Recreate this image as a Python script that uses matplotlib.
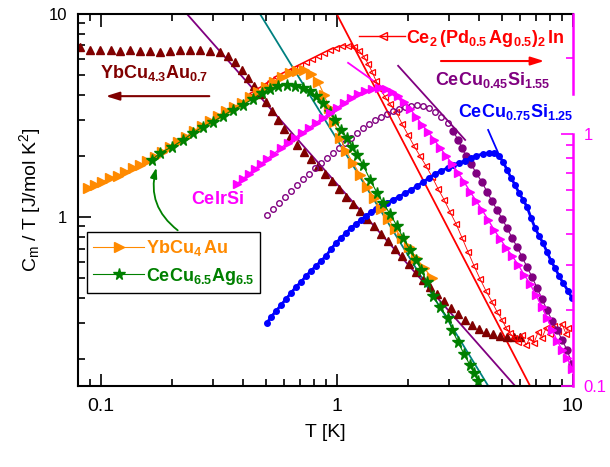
import numpy as np
import matplotlib
matplotlib.use("Agg")
from matplotlib import pyplot as plt
from matplotlib.ticker import LogLocator, NullFormatter, FixedLocator, FixedFormatter

plt.rcParams['font.family'] = ['Liberation Sans', 'DejaVu Sans']
plt.rcParams['mathtext.fontset'] = 'custom'
plt.rcParams['mathtext.rm'] = 'Liberation Sans'
plt.rcParams['mathtext.it'] = 'Liberation Sans:italic'
plt.rcParams['mathtext.bf'] = 'Liberation Sans:bold'

# YbCu4.3Au0.7
ybau07_T = [0.082, 0.090, 0.099, 0.110, 0.121, 0.133, 0.147, 0.162, 0.178, 0.197,
            0.217, 0.239, 0.263, 0.290, 0.320, 0.345, 0.371, 0.398, 0.421, 0.446,
            0.473, 0.501, 0.532, 0.564, 0.598, 0.634, 0.679, 0.727, 0.778, 0.833,
            0.892, 0.955, 1.02, 1.095, 1.17, 1.255, 1.345, 1.44, 1.54, 1.65,
            1.77, 1.89, 2.02, 2.17, 2.32, 2.485, 2.66, 2.85, 3.05, 3.27,
            3.50, 3.74, 4.01, 4.29, 4.60, 4.92, 5.27, 5.64, 5.98]
ybau07_C = [6.85, 6.67, 6.67, 6.67, 6.60, 6.67, 6.60, 6.60, 6.53, 6.60,
            6.67, 6.67, 6.67, 6.60, 6.53, 6.22, 5.82, 5.32, 4.86, 4.43,
            4.05, 3.70, 3.34, 3.02, 2.72, 2.49, 2.27, 2.10, 1.94, 1.79,
            1.635, 1.51, 1.38, 1.26, 1.16, 1.074, 0.981, 0.906, 0.827, 0.764,
            0.698, 0.645, 0.589, 0.538, 0.491, 0.454, 0.419, 0.387, 0.357, 0.334,
            0.312, 0.295, 0.282, 0.272, 0.266, 0.260, 0.257, 0.257, 0.257]

# YbCu4Au
ybau_T = [0.0883, 0.0946, 0.1013, 0.1095, 0.1184, 0.1268, 0.137, 0.1467, 0.157, 0.170,
          0.182, 0.197, 0.2126, 0.2298, 0.2484, 0.2686, 0.2904, 0.3141, 0.3395, 0.3671,
          0.397, 0.4291, 0.464, 0.5017, 0.5424, 0.5865, 0.634, 0.679, 0.727, 0.778,
          0.833, 0.884, 0.928, 0.974, 1.033, 1.095, 1.172, 1.255, 1.344, 1.439,
          1.54, 1.65, 1.766, 1.891, 2.025, 2.168, 2.344, 2.534]
ybau_C = [1.394, 1.44, 1.49, 1.56, 1.60, 1.67, 1.75, 1.81, 1.89, 1.98,
          2.10, 2.22, 2.35, 2.49, 2.66, 2.82, 2.98, 3.16, 3.34, 3.49,
          3.66, 3.91, 4.14, 4.38, 4.64, 4.91, 5.14, 5.26, 5.32, 5.08,
          4.64, 4.00, 3.45, 2.95, 2.46, 2.12, 1.85, 1.62, 1.41, 1.245,
          1.099, 0.981, 0.876, 0.791, 0.714, 0.630, 0.563, 0.502]

# CeCu6.5Ag6.5
cuag_T = [0.165, 0.1784, 0.2005, 0.2233, 0.246, 0.2714, 0.299, 0.330, 0.3636, 0.401,
          0.4418, 0.4826, 0.5215, 0.564, 0.6158, 0.6656, 0.72, 0.7705, 0.817, 0.875,
          0.9367, 0.9835, 1.043, 1.105, 1.161, 1.219, 1.292, 1.384, 1.482, 1.571,
          1.682, 1.80, 1.91, 2.045, 2.168, 2.276, 2.413, 2.559, 2.740, 2.962,
          3.08, 3.266, 3.463, 3.671, 3.818, 3.97]
cuag_C = [1.92, 2.07, 2.22, 2.40, 2.60, 2.79, 2.95, 3.16, 3.38, 3.57,
          3.83, 4.10, 4.29, 4.44, 4.48, 4.44, 4.34, 4.19, 3.96, 3.66,
          3.30, 3.02, 2.69, 2.46, 2.22, 2.03, 1.81, 1.53, 1.317, 1.176,
          1.038, 0.906, 0.791, 0.690, 0.616, 0.550, 0.480, 0.410, 0.361, 0.319,
          0.279, 0.243, 0.212, 0.187, 0.171, 0.156]

# Ce2(Pd0.5Ag0.5)2In
pdag_T = [0.4377, 0.464, 0.492, 0.5215, 0.553, 0.5865, 0.622, 0.659, 0.699, 0.741,
          0.786, 0.833, 0.884, 0.937, 0.993, 1.053, 1.116, 1.184, 1.243, 1.305,
          1.357, 1.411, 1.467, 1.526, 1.602, 1.682, 1.784, 1.891, 2.005, 2.126,
          2.254, 2.39, 2.534, 2.687, 2.849, 3.02, 3.203, 3.396, 3.601, 3.818,
          4.048, 4.292, 4.55, 4.78, 5.02, 5.22, 5.42, 5.64, 5.87, 6.10,
          6.34, 6.59, 6.85, 7.13, 7.41, 7.71, 8.01, 8.33, 8.66, 9.01,
          9.37, 9.55]
pdag_C = [4.09, 4.28, 4.48, 4.69, 4.91, 5.08, 5.26, 5.44, 5.63, 5.82,
          6.02, 6.23, 6.45, 6.67, 6.82, 6.98, 6.98, 6.90, 6.60, 6.16,
          5.69, 5.20, 4.69, 4.28, 3.91, 3.61, 3.30, 2.88, 2.54, 2.24,
          2.00, 1.79, 1.58, 1.38, 1.22, 1.062, 0.927, 0.791, 0.675, 0.576,
          0.497, 0.433, 0.383, 0.342, 0.312, 0.285, 0.269, 0.254, 0.243, 0.263,
          0.235, 0.254, 0.240, 0.272, 0.254, 0.285, 0.266, 0.291, 0.275, 0.298,
          0.266, 0.285]

# CeIrSi (right axis)
irsi_T = [0.378, 0.401, 0.425, 0.4505, 0.4777, 0.5065, 0.5424, 0.5807, 0.622, 0.6656,
          0.7128, 0.763, 0.817, 0.875, 0.937, 1.003, 1.074, 1.150, 1.231, 1.318,
          1.411, 1.511, 1.618, 1.715, 1.818, 1.929, 2.045, 2.168, 2.298, 2.437,
          2.584, 2.740, 2.905, 3.08, 3.266, 3.463, 3.671, 3.893, 4.127, 4.377,
          4.64, 4.92, 5.22, 5.53, 5.87, 6.22, 6.59, 6.99, 7.41, 7.78,
          8.17, 8.58, 9.01, 9.46, 9.93]
irsi_C = [0.633, 0.663, 0.694, 0.726, 0.760, 0.796, 0.833, 0.880, 0.921, 0.964,
          1.009, 1.056, 1.106, 1.158, 1.211, 1.268, 1.327, 1.390, 1.441, 1.481,
          1.509, 1.522, 1.509, 1.468, 1.415, 1.340, 1.256, 1.168, 1.086, 1.018,
          0.947, 0.880, 0.818, 0.760, 0.700, 0.645, 0.589, 0.542, 0.499, 0.456,
          0.416, 0.383, 0.353, 0.328, 0.302, 0.276, 0.254, 0.228, 0.206, 0.186,
          0.167, 0.151, 0.139, 0.129, 0.117]

# CeCu0.45Si1.55
si155_T = [0.5065, 0.537, 0.569, 0.6037, 0.640, 0.679, 0.72, 0.763, 0.809, 0.858,
           0.910, 0.965, 1.023, 1.084, 1.150, 1.219, 1.292, 1.370, 1.453, 1.54,
           1.634, 1.732, 1.837, 1.947, 2.064, 2.189, 2.321, 2.461, 2.609, 2.767,
           2.962, 3.11, 3.266, 3.396, 3.53, 3.71, 3.893, 4.127, 4.335, 4.55,
           4.78, 5.02, 5.27, 5.53, 5.81, 6.10, 6.40, 6.72, 7.06, 7.41,
           7.78, 8.17, 8.58, 9.01, 9.46, 9.93]
si155_C = [1.026, 1.099, 1.176, 1.259, 1.348, 1.44, 1.544, 1.634, 1.749, 1.851,
           1.959, 2.074, 2.194, 2.323, 2.458, 2.602, 2.754, 2.88, 3.02, 3.12,
           3.23, 3.34, 3.42, 3.49, 3.53, 3.57, 3.53, 3.45, 3.30, 3.12,
           2.91, 2.66, 2.40, 2.19, 2.00, 1.83, 1.65, 1.49, 1.33, 1.20,
           1.086, 0.981, 0.886, 0.791, 0.714, 0.637, 0.569, 0.508, 0.449, 0.396,
           0.349, 0.310, 0.279, 0.249, 0.222, 0.190]
n_open = 31

# CeCu0.75Si1.25
si125_T = [0.5065, 0.5265, 0.553, 0.5807, 0.610, 0.640, 0.672, 0.706, 0.741, 0.778,
           0.817, 0.858, 0.901, 0.946, 0.993, 1.043, 1.095, 1.150, 1.207, 1.268,
           1.331, 1.398, 1.467, 1.54, 1.634, 1.732, 1.837, 1.947, 2.064, 2.189,
           2.321, 2.461, 2.609, 2.767, 2.962, 3.11, 3.30, 3.497, 3.71, 3.893,
           4.17, 4.42, 4.64, 4.87, 5.07, 5.27, 5.48, 5.695, 5.92, 6.16,
           6.40, 6.66, 6.92, 7.20, 7.48, 7.78, 8.09, 8.41, 8.75, 9.10,
           9.55, 9.93]
si125_C = [0.302, 0.323, 0.345, 0.370, 0.396, 0.424, 0.454, 0.480, 0.514, 0.544,
           0.576, 0.609, 0.645, 0.698, 0.747, 0.791, 0.837, 0.886, 0.927, 0.970,
           1.015, 1.062, 1.099, 1.137, 1.176, 1.22, 1.259, 1.317, 1.36, 1.426,
           1.49, 1.561, 1.634, 1.691, 1.749, 1.81, 1.851, 1.894, 1.959, 2.004,
           2.050, 2.074, 2.074, 2.004, 1.873, 1.71, 1.561, 1.44, 1.317, 1.22,
           1.124, 0.992, 0.886, 0.809, 0.747, 0.675, 0.609, 0.563, 0.514, 0.475,
           0.434, 0.400]

# power-law lines (T, C end points)
fit_purple_T, fit_purple_C = [0.232, 5.69], [10.0, 0.148]
fit_teal_T, fit_teal_C = [0.473, 4.38], [10.0, 0.148]
fit_red_T, fit_red_C = [1.0, 6.59], [10.0, 0.148]
fit_si155_T, fit_si155_C = [1.82, 3.50], [5.56, 2.40]
fit_irsi_T, fit_irsi_C = [1.117, 2.045], [5.75, 3.49]

MAROON = '#800000'
ORANGE = '#FF8A00'
GREEN = '#008000'
TEAL = '#008080'
PURPLE = '#800080'
MAGENTA = '#FF00FF'

fig = plt.figure(figsize=(6.1, 4.67), dpi=100)
ax = fig.add_axes([0.1279, 0.1741, 0.8110, 0.7959])
ax.set_xscale('log')
ax.set_yscale('log')

ax.plot(fit_purple_T, fit_purple_C, color=PURPLE, lw=1.3)
ax.plot(fit_teal_T, fit_teal_C, color=TEAL, lw=1.3)
ax.plot(fit_red_T, fit_red_C, color='red', lw=1.3)
ax.plot(fit_si155_T, fit_si155_C, color=PURPLE, lw=1.3)
ax.plot(fit_irsi_T, fit_irsi_C, color=MAGENTA, lw=1.3)

ax.plot(ybau07_T, ybau07_C, ls='none', marker='^', ms=5.5, color=MAROON)
ax.plot(pdag_T, pdag_C, ls='-', lw=0.6, marker='<', ms=5, mfc='none', mec='red',
        color='red', mew=0.9)
ax.plot(si155_T[:n_open], si155_C[:n_open], ls='none', marker='o', ms=4,
        mfc='none', mec=PURPLE, mew=1.0)
ax.plot(si155_T[n_open:], si155_C[n_open:], ls='-', lw=0.8, marker='o', ms=5,
        mfc=PURPLE, mec=PURPLE, color=PURPLE)
ax.plot(si125_T, si125_C, ls='-', lw=2, marker='o', ms=4, color='blue')
l_ybau, = ax.plot(ybau_T, ybau_C, ls='-', lw=0.8, marker='>', ms=6.5, color=ORANGE)
l_cuag, = ax.plot(cuag_T, cuag_C, ls='-', lw=0.8, marker='*', ms=8.5, color=GREEN)

ax.set_xlim(0.0801, 10)
ax.set_ylim(0.1481, 10)

ax.xaxis.set_major_locator(FixedLocator([0.1, 1, 10]))
ax.xaxis.set_major_formatter(FixedFormatter(['0.1', '1', '10']))
ax.xaxis.set_minor_locator(LogLocator(subs=np.arange(2, 10)))
ax.xaxis.set_minor_formatter(NullFormatter())
ax.yaxis.set_major_locator(FixedLocator([1, 10]))
ax.yaxis.set_major_formatter(FixedFormatter(['1', '10']))
ax.yaxis.set_minor_locator(LogLocator(subs=np.arange(2, 10)))
ax.yaxis.set_minor_formatter(NullFormatter())

ax.tick_params(which='both', direction='in', top=True, right=False, width=1.2)
ax.tick_params(which='major', length=9)
ax.tick_params(which='minor', length=5)
ax.tick_params(axis='x', labelsize=14, pad=9)
ax.tick_params(axis='y', labelsize=12, pad=8)
for s in ['left', 'top', 'bottom']:
    ax.spines[s].set_linewidth(1.5)
ax.spines['right'].set_visible(False)

ax.set_xlabel('T [K]', fontsize=14, labelpad=6)
ax.set_ylabel(r'C$_\mathrm{m}$ / T [J/mol K$^2$]', fontsize=14, labelpad=4)

# CeIrSi on its own axis
ax2 = ax.twinx()
ax2.set_yscale('log')
ax2.set_ylim(0.1, 2.985)
ax2.plot(irsi_T, irsi_C, ls='-', lw=1.0, marker='>', ms=5.5, color=MAGENTA)
ax2.yaxis.set_major_locator(FixedLocator([0.1, 1]))
ax2.yaxis.set_major_formatter(FixedFormatter(['0.1', '1']))
ax2.yaxis.set_minor_locator(LogLocator(subs=np.arange(2, 10)))
ax2.yaxis.set_minor_formatter(NullFormatter())
ax2.tick_params(which='both', direction='in', colors=MAGENTA, width=1.2, labelsize=12, pad=8)
ax2.tick_params(which='major', length=9)
ax2.tick_params(which='minor', length=5)
for s in ['left', 'top', 'bottom']:
    ax2.spines[s].set_visible(False)
ax2.spines['right'].set_color(MAGENTA)
ax2.spines['right'].set_linewidth(1.8)
ax2.spines['right'].set_bounds(0.1, 1.0)
ax2.plot([1, 1], [1.44, 2.985], color=MAGENTA, lw=1.8,
         transform=ax2.get_yaxis_transform(), clip_on=False)

# labels and arrows
bold = dict(fontsize=13, transform=ax.transAxes)
ax.text(0.0445, 0.828, r'$\mathbf{YbCu_{4.3}Au_{0.7}}$', color=MAROON, **bold)
ax.annotate('', xy=(0.0505, 0.779), xytext=(0.271, 0.779), xycoords='axes fraction',
            arrowprops=dict(arrowstyle='-|>,head_length=0.8,head_width=0.25',
                            color=MAROON, lw=1.5))
ax.text(0.663, 0.922, r'$\mathbf{Ce_{2}\,(Pd_{0.5}\,Ag_{0.5})_{2}\,In}$', color='red', **bold)
ax.plot([0.568, 0.661], [0.941, 0.941], color='red', lw=1.0, transform=ax.transAxes)
ax.plot([0.6165], [0.941], marker='<', ms=6, mfc='none', mec='red', mew=1.0,
        transform=ax.transAxes)
ax.annotate('', xy=(0.948, 0.8735), xytext=(0.728, 0.8735), xycoords='axes fraction',
            arrowprops=dict(arrowstyle='-|>,head_length=0.8,head_width=0.25',
                            color='red', lw=1.5))
ax.text(0.722, 0.809, r'$\mathbf{CeCu_{0.45}Si_{1.55}}$', color=PURPLE, **bold)
ax.text(0.768, 0.723, r'$\mathbf{CeCu_{0.75}Si_{1.25}}$', color='blue', **bold)
ax.plot([0.829, 0.853], [0.688, 0.615], color='blue', lw=1.3, transform=ax.transAxes)
ax.text(0.228, 0.489, r'$\mathbf{CeIrSi}$', color=MAGENTA, **bold)

leg = ax.legend([l_ybau, l_cuag],
                [r'$\mathbf{YbCu_{4}\,Au}$', r'$\mathbf{CeCu_{6.5}Ag_{6.5}}$'],
                loc='upper left', bbox_to_anchor=(0.018, 0.4135), borderaxespad=0,
                fontsize=13, numpoints=1, handlelength=2.8, handletextpad=0.1,
                borderpad=0.35, labelspacing=0.4, fancybox=False, framealpha=1,
                edgecolor='black', labelcolor='linecolor')
leg.get_frame().set_linewidth(1.0)

ax.annotate('', xy=(0.160, 0.594), xytext=(0.206, 0.4135), xycoords='axes fraction',
            arrowprops=dict(arrowstyle='-|>,head_length=0.6,head_width=0.2',
                            color=GREEN, lw=1.3, connectionstyle='arc3,rad=-0.35'))

fig.savefig('out.png', dpi=100)
